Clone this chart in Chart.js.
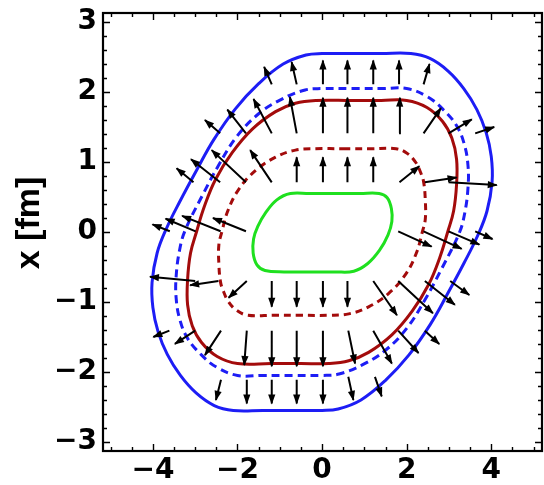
<!DOCTYPE html>
<html>
<head>
<meta charset="utf-8">
<script src="https://cdn.jsdelivr.net/npm/chart.js@4/dist/chart.umd.min.js"></script>
<style>
  html, body { margin: 0; padding: 0; background: #ffffff; }
  #wrap { width: 544px; height: 485px; }
</style>
</head>
<body>
<div id="wrap"><canvas id="c" width="544" height="485"></canvas></div>
<script>
// Axis ticks and title
const xTickValues = [-4, -2, 0, 2, 4];
const yTickValues = [-3, -2, -1, 0, 1, 2, 3];
const yTitle = 'x [fm]';

// Outer boundary (solid blue)
const blueSolidX = [0.7, 1.4, 2.10, 2.55, 2.98, 3.35, 3.66, 3.88, 4.00, 4.02, 3.90, 3.68, 3.36, 2.97, 2.56, 2.05, 1.50, 0.92, 0.38, 0.0, -0.7, -1.4, -2.10, -2.55, -2.98, -3.35, -3.66, -3.88, -4.00, -4.02, -3.90, -3.68, -3.36, -2.97, -2.56, -2.05, -1.50, -0.92, -0.38, 0.0, 0.7];
const blueSolidY = [2.55, 2.55, 2.55, 2.48, 2.30, 2.05, 1.75, 1.42, 1.08, 0.72, 0.30, -0.05, -0.44, -0.88, -1.32, -1.76, -2.12, -2.40, -2.53, -2.55, -2.55, -2.55, -2.55, -2.48, -2.30, -2.05, -1.75, -1.42, -1.08, -0.72, -0.30, 0.05, 0.44, 0.88, 1.32, 1.76, 2.12, 2.40, 2.53, 2.55, 2.55];

// Dashed blue boundary
const blueDashX = [0.7, 1.4, 2.00, 2.50, 2.88, 3.18, 3.36, 3.45, 3.45, 3.37, 3.24, 2.84, 2.44, 2.01, 1.50, 0.95, 0.40, 0.0, -0.7, -1.4, -2.00, -2.50, -2.88, -3.18, -3.36, -3.45, -3.45, -3.37, -3.24, -2.84, -2.44, -2.01, -1.50, -0.95, -0.40, 0.0, 0.7];
const blueDashY = [2.05, 2.05, 2.05, 1.93, 1.74, 1.52, 1.26, 0.95, 0.63, 0.26, -0.02, -0.51, -0.96, -1.37, -1.69, -1.90, -2.03, -2.05, -2.05, -2.05, -2.05, -1.93, -1.74, -1.52, -1.26, -0.95, -0.63, -0.26, 0.02, 0.51, 0.96, 1.37, 1.69, 1.90, 2.03, 2.05, 2.05];

// Solid dark-red boundary
const redSolidX = [0.7, 1.4, 2.00, 2.48, 2.85, 3.07, 3.18, 3.18, 3.11, 2.97, 2.78, 2.52, 2.13, 1.65, 1.10, 0.63, 0.15, -0.5, -1.2, -2.00, -2.48, -2.85, -3.07, -3.18, -3.18, -3.11, -2.97, -2.78, -2.52, -2.13, -1.65, -1.10, -0.63, -0.15, 0.7];
const redSolidY = [1.88, 1.88, 1.88, 1.78, 1.58, 1.34, 1.04, 0.68, 0.30, 0.0, -0.37, -0.75, -1.13, -1.47, -1.72, -1.84, -1.88, -1.88, -1.88, -1.88, -1.78, -1.58, -1.34, -1.04, -0.68, -0.30, 0.0, 0.37, 0.75, 1.13, 1.47, 1.72, 1.84, 1.88, 1.88];

// Dashed dark-red boundary
const redDashX = [0.5, 1.15, 1.75, 2.02, 2.22, 2.33, 2.40, 2.44, 2.44, 2.37, 2.23, 1.97, 1.57, 1.10, 0.63, 0.15, -0.5, -1.15, -1.75, -2.02, -2.22, -2.33, -2.40, -2.44, -2.44, -2.37, -2.23, -1.97, -1.57, -1.10, -0.63, -0.15, 0.5];
const redDashY = [1.19, 1.19, 1.19, 1.12, 0.99, 0.85, 0.72, 0.46, 0.18, 0.0, -0.30, -0.61, -0.88, -1.07, -1.17, -1.19, -1.19, -1.19, -1.19, -1.12, -0.99, -0.85, -0.72, -0.46, -0.18, 0.0, 0.30, 0.61, 0.88, 1.07, 1.17, 1.19, 1.19];

// Inner green boundary
const greenX = [0.3, 0.9, 1.35, 1.54, 1.64, 1.65, 1.56, 1.36, 1.08, 0.75, 0.3, -0.3, -0.9, -1.35, -1.54, -1.63, -1.62, -1.52, -1.33, -1.07, -0.75, -0.3, 0.3];
const greenY = [0.55, 0.55, 0.55, 0.49, 0.33, 0.15, -0.04, -0.26, -0.45, -0.56, -0.57, -0.57, -0.57, -0.55, -0.47, -0.30, -0.10, 0.08, 0.28, 0.46, 0.55, 0.55, 0.55];

// Flow arrows: tail and head positions
const arrowTailX = [
  -1.19, -0.60, 0.02, 0.60, 1.21, 1.82, 2.40,
  -2.41, -1.80, -1.19, -0.60, 0.02, 0.60, 1.21, 1.82, 2.40, 2.99, 3.62,
  -3.04, -2.41, -1.80, -1.19, -0.60, 0.02, 0.60, 1.21, 1.83, 2.43, 2.99,
  -3.60, -2.99, -2.40, -1.80, 1.80, 2.40, 2.99, 3.62,
  -3.00, -2.45, -1.78, -1.19, -0.60, 0.02, 0.60, 1.21, 1.80, 2.43, 3.03,
  -3.61, -3.00, -2.39, -1.78, -1.19, -0.60, 0.02, 0.62, 1.21, 1.80, 2.43,
  -2.39, -1.78, -1.19, -0.60, 0.02, 0.62, 1.25
];
const arrowTailY = [
  2.11, 2.11, 2.11, 2.11, 2.11, 2.11, 2.11,
  1.41, 1.41, 1.41, 1.41, 1.41, 1.41, 1.41, 1.41, 1.41, 1.41, 1.41,
  0.71, 0.71, 0.71, 0.71, 0.71, 0.71, 0.71, 0.71, 0.71, 0.71, 0.71,
  0.01, 0.01, 0.01, 0.01, 0.01, 0.01, 0.01, 0.01,
  -0.70, -0.70, -0.70, -0.70, -0.70, -0.70, -0.70, -0.70, -0.70, -0.70, -0.70,
  -1.41, -1.41, -1.41, -1.41, -1.41, -1.41, -1.41, -1.41, -1.41, -1.41, -1.41,
  -2.11, -2.11, -2.11, -2.11, -2.11, -2.07, -2.07
];
const arrowHeadX = [
  -1.37, -0.72, 0.02, 0.60, 1.21, 1.82, 2.54,
  -2.77, -2.24, -1.62, -0.76, 0.02, 0.60, 1.21, 1.84, 2.81, 3.54, 4.07,
  -3.44, -3.10, -2.61, -1.70, -0.60, 0.02, 0.60, 1.21, 2.30, 3.18, 4.13,
  -4.01, -3.70, -3.31, -2.58, 2.59, 3.30, 3.72, 4.03,
  -4.07, -3.12, -2.21, -1.19, -0.60, 0.02, 0.60, 1.77, 2.62, 3.14, 3.48,
  -3.99, -3.48, -2.77, -1.84, -1.19, -0.60, 0.02, 0.78, 1.65, 2.28, 2.77,
  -2.51, -1.78, -1.19, -0.60, 0.02, 0.74, 1.41
];
const arrowHeadY = [
  2.36, 2.43, 2.45, 2.45, 2.45, 2.45, 2.40,
  1.60, 1.75, 1.90, 1.93, 1.92, 1.92, 1.92, 1.92, 1.77, 1.61, 1.50,
  0.91, 1.04, 1.17, 1.17, 1.07, 1.07, 1.07, 1.07, 0.94, 0.78, 0.67,
  0.11, 0.19, 0.23, 0.20, -0.21, -0.24, -0.18, -0.10,
  -0.64, -0.76, -0.94, -1.07, -1.07, -1.07, -1.07, -1.19, -1.16, -1.04, -0.90,
  -1.50, -1.60, -1.76, -1.90, -1.92, -1.92, -1.92, -1.88, -1.88, -1.73, -1.60,
  -2.40, -2.45, -2.45, -2.45, -2.45, -2.40, -2.35
];

const toPoints = (xs, ys) => xs.map((x, i) => ({ x: x, y: ys[i] }));

// Arrow shafts as one broken polyline (null points separate the segments)
const shaftPoints = [];
arrowTailX.forEach((x, i) => {
  shaftPoints.push({ x: x, y: arrowTailY[i] });
  shaftPoints.push({ x: arrowHeadX[i], y: arrowHeadY[i] });
  shaftPoints.push({ x: null, y: null });
});

const BLUE = '#1d1df5';
const DARKRED = '#a30b0b';
const GREEN = '#1fe01f';
const TITLE_FONT = '"Liberation Sans", Arial, Helvetica, sans-serif';
const TICK_FONT = '"DejaVu Sans", "Liberation Sans", Arial, sans-serif';

function contour(xs, ys, color, dash) {
  return {
    data: toPoints(xs, ys),
    showLine: true,
    borderColor: color,
    borderWidth: 3,
    borderDash: dash,
    borderCapStyle: 'butt',
    borderJoinStyle: 'round',
    pointRadius: 0,
    tension: 0.4,
    fill: false,
    order: 2
  };
}

// Arrow heads, frame, inward ticks and rotated axis title
const decorations = {
  id: 'decorations',
  afterDatasetsDraw(chart) {
    const ctx = chart.ctx;
    const xs = chart.scales.x, ys = chart.scales.y;
    ctx.save();
    ctx.fillStyle = '#000000';
    arrowTailX.forEach((tx, i) => {
      const x0 = xs.getPixelForValue(tx), y0 = ys.getPixelForValue(arrowTailY[i]);
      const x1 = xs.getPixelForValue(arrowHeadX[i]), y1 = ys.getPixelForValue(arrowHeadY[i]);
      const a = Math.atan2(y1 - y0, x1 - x0);
      const L = 9, W = 3.6;
      ctx.beginPath();
      ctx.moveTo(x1 + Math.cos(a) * 1, y1 + Math.sin(a) * 1);
      ctx.lineTo(x1 - Math.cos(a) * L - Math.sin(a) * W, y1 - Math.sin(a) * L + Math.cos(a) * W);
      ctx.lineTo(x1 - Math.cos(a) * L + Math.sin(a) * W, y1 - Math.sin(a) * L - Math.cos(a) * W);
      ctx.closePath();
      ctx.fill();
    });
    ctx.restore();
  },
  afterDraw(chart) {
    const ctx = chart.ctx;
    const a = chart.chartArea;
    const xs = chart.scales.x, ys = chart.scales.y;
    ctx.save();
    ctx.strokeStyle = '#000000';
    ctx.lineWidth = 1.4;
    ctx.beginPath();
    for (let k = -10; k <= 10; k++) {
      const v = k * 0.5;
      const px = Math.round(xs.getPixelForValue(v)) + 0.5;
      if (px < a.left + 1 || px > a.right - 1) continue;
      const len = xTickValues.includes(v) ? 7 : 4;
      ctx.moveTo(px, a.bottom); ctx.lineTo(px, a.bottom - len);
      ctx.moveTo(px, a.top); ctx.lineTo(px, a.top + len);
    }
    for (let k = -15; k <= 15; k++) {
      const v = Math.round(k * 0.2 * 10) / 10;
      const py = Math.round(ys.getPixelForValue(v)) + 0.5;
      if (py < a.top + 1 || py > a.bottom - 1) continue;
      const len = yTickValues.includes(v) ? 7 : 4;
      ctx.moveTo(a.left, py); ctx.lineTo(a.left + len, py);
      ctx.moveTo(a.right, py); ctx.lineTo(a.right - len, py);
    }
    ctx.stroke();
    ctx.lineWidth = 2.2;
    ctx.strokeRect(a.left, a.top, a.right - a.left, a.bottom - a.top);

    ctx.translate(30, 223);
    ctx.rotate(-Math.PI / 2);
    ctx.fillStyle = '#000000';
    ctx.font = 'bold 34px ' + TITLE_FONT;
    ctx.textAlign = 'center';
    ctx.textBaseline = 'middle';
    ctx.fillText(yTitle, 0, 0);
    ctx.restore();
  }
};

const fmt = v => (v < 0 ? '\u2212' + Math.abs(v) : String(v));

new Chart(document.getElementById('c'), {
  type: 'scatter',
  data: {
    datasets: [
      {
        data: shaftPoints,
        showLine: true,
        spanGaps: false,
        borderColor: '#000000',
        borderWidth: 2,
        pointRadius: 0,
        tension: 0,
        order: 1
      },
      contour(blueSolidX, blueSolidY, BLUE, []),
      contour(blueDashX, blueDashY, BLUE, [8, 5]),
      contour(redSolidX, redSolidY, DARKRED, []),
      contour(redDashX, redDashY, DARKRED, [7, 5]),
      contour(greenX, greenY, GREEN, [])
    ]
  },
  options: {
    responsive: false,
    animation: false,
    devicePixelRatio: 1,
    layout: { padding: { left: 0, right: 2, top: 13, bottom: 0 } },
    plugins: { legend: { display: false }, tooltip: { enabled: false } },
    scales: {
      x: {
        type: 'linear',
        min: -5.18,
        max: 5.2,
        grid: { display: false, drawTicks: false },
        border: { display: false },
        afterBuildTicks: s => { s.ticks = xTickValues.map(v => ({ value: v })); },
        afterFit: s => { s.height = 34; s.paddingLeft = 0; s.paddingRight = 0; },
        ticks: {
          callback: fmt,
          color: '#000000',
          padding: 3,
          maxRotation: 0,
          autoSkip: false,
          font: { family: TICK_FONT, size: 28, weight: 'bold' }
        }
      },
      y: {
        type: 'linear',
        min: -3.13,
        max: 3.13,
        grid: { display: false, drawTicks: false },
        border: { display: false },
        afterBuildTicks: s => { s.ticks = yTickValues.map(v => ({ value: v })); },
        afterFit: s => { s.width = 103; s.paddingTop = 0; s.paddingBottom = 0; },
        ticks: {
          callback: fmt,
          color: '#000000',
          padding: 6,
          autoSkip: false,
          font: { family: TICK_FONT, size: 28, weight: 'bold' }
        }
      }
    }
  },
  plugins: [decorations]
});
</script>
</body>
</html>
